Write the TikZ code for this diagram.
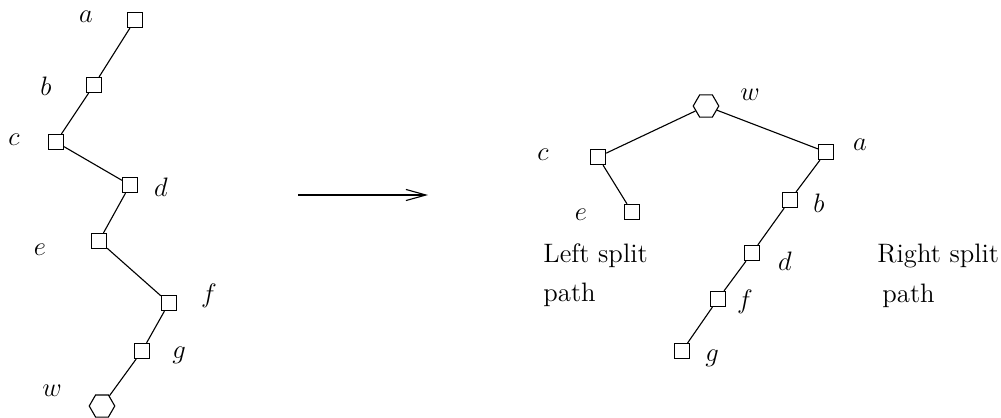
\documentclass[tikz,border=0pt]{standalone}
\usetikzlibrary{shapes.geometric,arrows.meta}
\begin{document}
\begin{tikzpicture}[x=0.45pt,y=-0.45pt,
  sq/.style={draw,rectangle,minimum size=6.8pt,inner sep=0pt,line width=0.5pt},
  hx/.style={draw,regular polygon,regular polygon sides=6,minimum size=11.5pt,inner sep=0pt,line width=0.5pt},
  lbl/.style={inner sep=0pt,font=\fontsize{12}{14}\selectfont},
  txt/.style={inner sep=0pt,anchor=base west,font=\fontsize{12}{14}\selectfont},
  edge/.style={line width=0.5pt}]
\useasboundingbox (0,0) rectangle (1001,417);
% left tree
\node[sq] (a) at (135,20) {};
\node[sq] (b) at (94,85) {};
\node[sq] (c) at (56,142) {};
\node[sq] (d) at (130,185) {};
\node[sq] (e) at (99,241) {};
\node[sq] (f) at (169,303) {};
\node[sq] (g) at (142,351) {};
\node[hx] (w) at (102,406) {};
\draw[edge] (a) -- (b) -- (c) -- (d) -- (e) -- (f) -- (g) -- (w);
\node[lbl] (la) at (86,17) {$a$};
\node[lbl] (lb) at (46,86) {$b$};
\node[lbl] (lc) at (14,140) {$c$};
\node[lbl] (ld) at (161,187) {$d$};
\node[lbl] (le) at (40,250) {$e$};
\node[lbl] (lf) at (209,296) {$f$};
\node[lbl] (lg) at (179,355) {$g$};
\node[lbl] (lw) at (52,391) {$w$};
% arrow
\coordinate (p1) at (298,195);
\coordinate (p2) at (428,195);
\draw[edge,-{Straight Barb[length=9pt,width=5pt]}] (p1) -- (p2);
% right tree
\node[hx] (W) at (706,106) {};
\node[sq] (C) at (598,157) {};
\node[sq] (E) at (632,212) {};
\node[sq] (A) at (826,152) {};
\node[sq] (B) at (790,200) {};
\node[sq] (D) at (752,253) {};
\node[sq] (F) at (718,299) {};
\node[sq] (G) at (682,351) {};
\draw[edge] (W) -- (C) -- (E);
\draw[edge] (W) -- (A) -- (B) -- (D) -- (F) -- (G);
\node[lbl] (lW) at (750,95) {$w$};
\node[lbl] (lC) at (543,155) {$c$};
\node[lbl] (lE) at (581,215) {$e$};
\node[lbl] (lA) at (860,145) {$a$};
\node[lbl] (lB) at (819,203) {$b$};
\node[lbl] (lD) at (785,261) {$d$};
\node[lbl] (lF) at (745,302) {$f$};
\node[lbl] (lG) at (712,358) {$g$};
\node[txt] (ls1) at (543,262) {Left split};
\node[txt] (ls2) at (543,301) {path};
\node[txt] (rs1) at (877,262) {Right split};
\node[txt] (rs2) at (882,302) {path};
\end{tikzpicture}
\end{document}
